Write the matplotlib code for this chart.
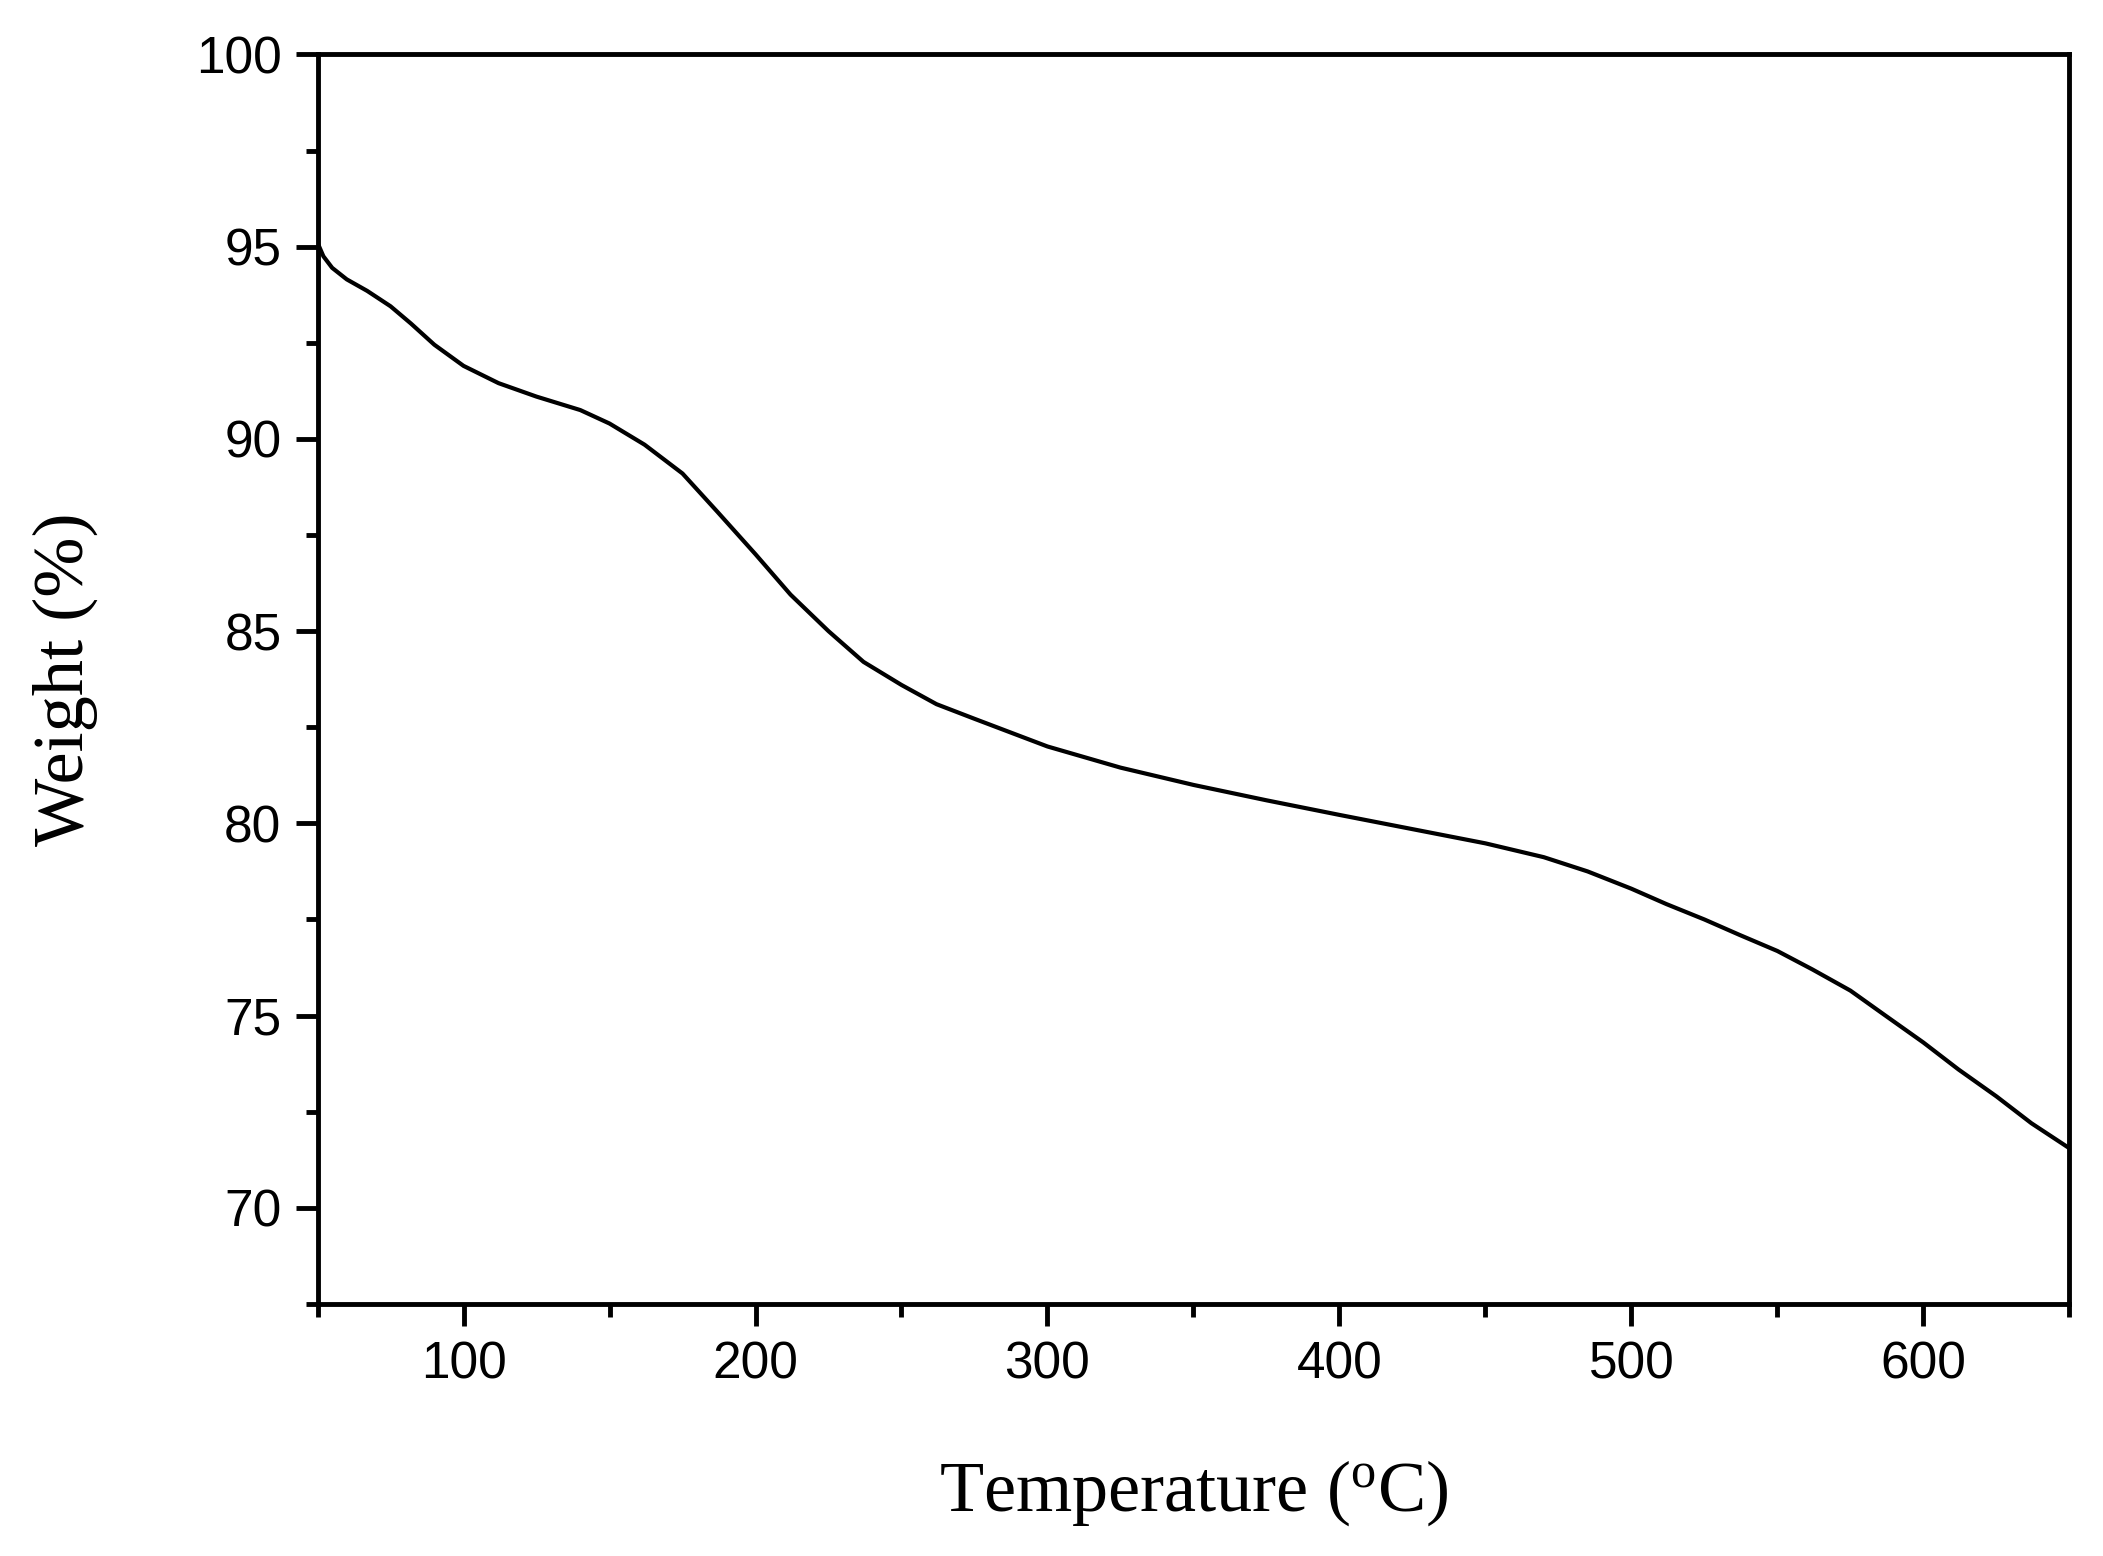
import matplotlib.pyplot as plt
import numpy as np

temperature = [50, 52, 55, 60, 67, 75, 82, 90, 100, 112, 125, 140, 150, 162, 175, 187, 200, 212, 225, 237, 250, 262,
               275, 300, 325, 350, 375, 400, 425, 450, 470, 485, 500, 512, 525, 537, 550, 562, 575, 587, 600,
               612, 625, 637, 650]
weight = [95.1, 94.75, 94.45, 94.15, 93.85, 93.45, 93.0, 92.45, 91.9, 91.45, 91.1, 90.75, 90.4, 89.85, 89.1, 88.1, 87.0, 85.95,
          85.0, 84.2, 83.6, 83.1, 82.72, 82.0, 81.45, 81.0, 80.6, 80.22, 79.85, 79.48, 79.12, 78.75, 78.3, 77.9,
          77.5, 77.1, 76.68, 76.2, 75.65, 75.0, 74.3, 73.6, 72.9, 72.2, 71.55]

fig = plt.figure(figsize=(21.03, 15.56), dpi=100)
ax = fig.add_axes([0.151, 0.162, 0.833, 0.803])
ax.plot(temperature, weight, color="black", linewidth=3, solid_joinstyle="round")
ax.set_xlim(50, 650)
ax.set_ylim(67.5, 100)
ax.set_xticks(np.arange(100, 601, 100))
ax.set_xticks(np.arange(50, 651, 50), minor=True)
ax.set_yticks(np.arange(70, 101, 5))
ax.set_yticks(np.arange(67.5, 100.1, 2.5), minor=True)
for s in ax.spines.values():
    s.set_linewidth(3.5)
ax.tick_params(which="major", direction="out", length=16, width=3.5, labelsize=37, pad=10)
ax.tick_params(which="minor", direction="out", length=9, width=3.5)
for lab in ax.get_xticklabels() + ax.get_yticklabels():
    lab.set_fontfamily("Liberation Sans")
ax.set_xlabel("Temperature ($\\mathregular{^o}$C)", fontfamily="Liberation Serif", fontsize=52, labelpad=50)
ax.set_ylabel("Weight (%)", fontfamily="Liberation Serif", fontsize=52, labelpad=70)
fig.savefig("out.png", dpi=100, facecolor="white")
